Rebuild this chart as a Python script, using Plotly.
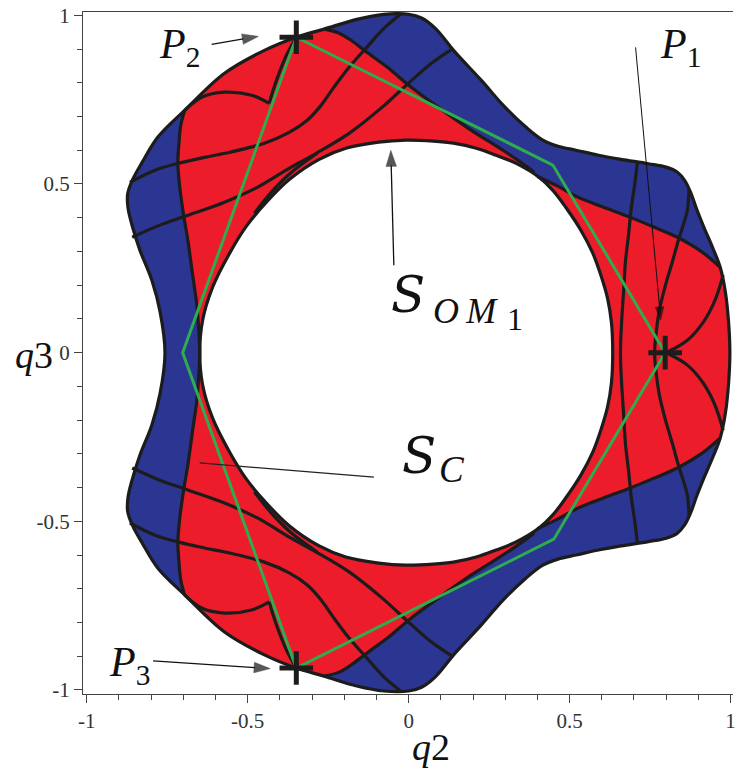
import math
import plotly.graph_objects as go

# Workspace section in the (q2, q3) plane.  Every boundary below is given for
# the upper half (q3 >= 0); the section is symmetric about q3 = 0, so the
# lower half is obtained by reflection.

# outer boundary, from (q2 max, 0) counter-clockwise to (q2 min, 0)
outer_q2 = [0.998, 0.994, 0.984, 0.968, 0.945, 0.918, 0.895, 0.876, 0.858, 0.835,
            0.800, 0.745, 0.660, 0.590, 0.520, 0.464, 0.417, 0.365, 0.294, 0.226,
            0.145, 0.083, 0.040, 0.000, -0.077, -0.161, -0.263, -0.349, -0.448, -0.572,
            -0.696, -0.779, -0.828, -0.858, -0.873, -0.872, -0.860, -0.835, -0.798, -0.772,
            -0.757]
outer_q3 = [0.000, 0.090, 0.180, 0.253, 0.310, 0.370, 0.425, 0.475, 0.510, 0.535,
            0.550, 0.560, 0.573, 0.585, 0.600, 0.612, 0.630, 0.668, 0.733, 0.807,
            0.890, 0.961, 0.992, 1.003, 1.003, 0.988, 0.959, 0.935, 0.896, 0.828,
            0.718, 0.639, 0.564, 0.512, 0.470, 0.430, 0.380, 0.304, 0.215, 0.120,
            0.000]

# inner hole (S_OM1), same orientation
hole_q2 = [0.634, 0.630, 0.618, 0.597, 0.572, 0.535, 0.488, 0.448, 0.405, 0.334,
           0.272, 0.210, 0.139, 0.077, -0.009, -0.093, -0.195, -0.278, -0.371, -0.442,
           -0.504, -0.556, -0.609, -0.640, -0.649]
hole_q3 = [0.000, 0.090, 0.161, 0.230, 0.295, 0.363, 0.431, 0.481, 0.520, 0.561,
           0.585, 0.606, 0.621, 0.627, 0.630, 0.624, 0.606, 0.573, 0.513, 0.446,
           0.375, 0.295, 0.194, 0.096, 0.000]

# red / blue separation, top branch (outer boundary -> hole)
sep_top_q2 = [-0.263, -0.216, -0.179, -0.133, -0.062, 0.000, 0.093, 0.195, 0.278, 0.340, 0.390]
sep_top_q3 = [0.959, 0.947, 0.926, 0.893, 0.843, 0.793, 0.727, 0.659, 0.609, 0.570, 0.535]

# red / blue separation, right branch (hole -> outer boundary)
sep_right_q2 = [0.400, 0.460, 0.526, 0.600, 0.689, 0.760, 0.835, 0.912, 0.968]
sep_right_q3 = [0.522, 0.495, 0.461, 0.433, 0.401, 0.373, 0.342, 0.298, 0.253]

# red / blue separation on the left (outer boundary -> q3 = 0)
sep_left_q2 = [-0.696, -0.708, -0.714, -0.717, -0.711, -0.699, -0.686, -0.671, -0.658, -0.652, -0.649]
sep_left_q3 = [0.718, 0.674, 0.615, 0.561, 0.490, 0.407, 0.333, 0.230, 0.141, 0.067, 0.000]

# interior curves of the upper half
curve_s_q2 = [-0.866, -0.788, -0.717, -0.634, -0.556, -0.448, -0.371, -0.315, -0.272, -0.232,
              -0.185, -0.133, -0.077, -0.025]
curve_s_q3 = [0.505, 0.541, 0.561, 0.579, 0.594, 0.621, 0.653, 0.689, 0.733, 0.787,
              0.846, 0.902, 0.961, 1.003]
curve_f_q2 = [-0.859, -0.773, -0.686, -0.572, -0.470, -0.365, -0.287, -0.185, -0.083, 0.000, 0.071, 0.139]
curve_f_q3 = [0.342, 0.378, 0.407, 0.446, 0.490, 0.550, 0.591, 0.650, 0.727, 0.799, 0.858, 0.902]
curve_h_q2 = [-0.479, -0.427, -0.365, -0.284]
curve_h_q3 = [0.413, 0.475, 0.534, 0.591]
cusp_arc_q2 = [-0.696, -0.643, -0.572, -0.488, -0.433]
cusp_arc_q3 = [0.718, 0.757, 0.772, 0.763, 0.739]
cusp_leg_q2 = [-0.349, -0.380, -0.405, -0.423, -0.433]
cusp_leg_q3 = [0.935, 0.881, 0.822, 0.772, 0.739]
p1_arc_q2 = [0.808, 0.866, 0.915, 0.952, 0.977]
p1_arc_q3 = [0.004, 0.037, 0.090, 0.156, 0.230]

# near-vertical curves crossing q3 = 0 (top end -> q3 = 0)
vert_a_q2 = [0.711, 0.702, 0.692, 0.683, 0.674, 0.668, 0.662, 0.658]
vert_a_q3 = [0.566, 0.496, 0.431, 0.348, 0.274, 0.185, 0.096, 0.000]
vert_b_q2 = [0.871, 0.866, 0.853, 0.838, 0.819, 0.798, 0.779, 0.770, 0.764]
vert_b_q3 = [0.485, 0.422, 0.378, 0.333, 0.268, 0.200, 0.126, 0.067, 0.000]

# polygonal path through the poses and the three poses themselves
path_q2 = [0.797, 0.448, -0.349, -0.702, -0.349, 0.451, 0.797]
path_q3 = [0.000, 0.556, 0.935, 0.000, -0.935, -0.553, 0.000]
pose_names = ["P1", "P2", "P3"]
pose_q2 = [0.797, -0.349, -0.349]
pose_q3 = [0.000, 0.935, -0.935]

RED = "#ED1C2B"
BLUE = "#2B3592"
INK = "#1C1C1C"
GREEN = "#2EAD4E"
SERIF = "Liberation Serif, Times New Roman, serif"
WIDE_SERIF = "DejaVu Serif, Liberation Serif, serif"

# plot geometry (pixels per axis unit), used to size the arrow heads
W, H = 736, 768
M_L, M_R, M_T, M_B = 83, 0, 12, 74
X_RANGE = [-1.0117, 1.0077]
Y_RANGE = [-1.0119, 1.0098]
PX_X = (W - M_L - M_R) / (X_RANGE[1] - X_RANGE[0])
PX_Y = (H - M_T - M_B) / (Y_RANGE[1] - Y_RANGE[0])


def closed_from_half(xs, ys):
    """Upper half from (x, 0) to (x', 0) -> full closed loop."""
    fx = list(xs) + list(xs[-2:0:-1]) + [xs[0]]
    fy = list(ys) + [-v for v in ys[-2:0:-1]] + [ys[0]]
    return fx, fy


def through_axis(xs, ys):
    """Curve from its top end down to q3 = 0 -> continued to the bottom end."""
    fx = list(xs) + list(xs[-2::-1])
    fy = list(ys) + [-v for v in ys[-2::-1]]
    return fx, fy


def with_mirror(xs, ys):
    """Open curve in the upper half plus its reflection, as two pieces."""
    return list(xs) + [None] + list(xs), list(ys) + [None] + [-v for v in ys]


fig = go.Figure()

# blue: whole section
ox, oy = closed_from_half(outer_q2, outer_q3)
fig.add_trace(go.Scatter(x=ox, y=oy, mode="lines", fill="toself", fillcolor=BLUE,
                         line=dict(width=0, shape="spline"), hoverinfo="skip"))

# red: part of the outer boundary, the separation curves, dipping into the hole
red_half_q2 = (outer_q2[:4] + sep_right_q2[-2::-1] + [0.37] + sep_top_q2[::-1]
               + outer_q2[27:31] + sep_left_q2[1:])
red_half_q3 = (outer_q3[:4] + sep_right_q3[-2::-1] + [0.45] + sep_top_q3[::-1]
               + outer_q3[27:31] + sep_left_q3[1:])
rx, ry = closed_from_half(red_half_q2, red_half_q3)
fig.add_trace(go.Scatter(x=rx, y=ry, mode="lines", fill="toself", fillcolor=RED,
                         line=dict(width=0), hoverinfo="skip"))

# white hole
hx, hy = closed_from_half(hole_q2, hole_q3)
fig.add_trace(go.Scatter(x=hx, y=hy, mode="lines", fill="toself", fillcolor="white",
                         line=dict(width=0, shape="spline"), hoverinfo="skip"))

# black curves
pieces = []
for xs, ys in [(sep_top_q2, sep_top_q3), (sep_right_q2, sep_right_q3),
               (curve_s_q2, curve_s_q3), (curve_f_q2, curve_f_q3),
               (curve_h_q2, curve_h_q3), (cusp_arc_q2, cusp_arc_q3),
               (cusp_leg_q2, cusp_leg_q3), (p1_arc_q2, p1_arc_q3)]:
    pieces.append(with_mirror(xs, ys))
for xs, ys in [(sep_left_q2, sep_left_q3), (vert_a_q2, vert_a_q3), (vert_b_q2, vert_b_q3)]:
    pieces.append(through_axis(xs, ys))
pieces.append((hx, hy))
pieces.append((ox, oy))
for xs, ys in pieces:
    fig.add_trace(go.Scatter(x=xs, y=ys, mode="lines",
                             line=dict(color=INK, width=3.2, shape="spline"),
                             hoverinfo="skip"))

# path between poses
fig.add_trace(go.Scatter(x=path_q2, y=path_q3, mode="lines",
                         line=dict(color=GREEN, width=3), hoverinfo="skip"))
fig.add_trace(go.Scatter(x=pose_q2, y=pose_q3, mode="markers",
                         marker=dict(symbol="cross-thin", size=24,
                                     line=dict(color=INK, width=5)),
                         hovertext=pose_names, hoverinfo="text"))


# pointer arrows: thin line with a filled head whose tip lands on the target
def add_arrow(x0, y0, x1, y1, width=1.3, head=17):
    dx, dy = (x1 - x0) * PX_X, (y1 - y0) * PX_Y
    n = math.hypot(dx, dy)
    back = head * 0.42
    hx_, hy_ = x1 - dx / n * back / PX_X, y1 - dy / n * back / PX_Y
    fig.add_trace(go.Scatter(x=[x0, hx_], y=[y0, hy_], mode="lines+markers",
                             line=dict(color="#111", width=width),
                             marker=dict(symbol="arrow", angleref="previous",
                                         size=[0, head], color="#111",
                                         line=dict(width=0.5, color="#111")),
                             hoverinfo="skip"))


add_arrow(-0.612, 0.914, -0.445, 0.941)
add_arrow(0.705, 0.905, 0.785, 0.079, width=1.0, head=14)
add_arrow(-0.046, 0.259, -0.056, 0.621)
add_arrow(-0.794, -0.914, -0.408, -0.938)


def label(text, x, y, size, ref="x", family=SERIF):
    return dict(text=text, x=x, y=y, xref=ref, yref=ref.replace("x", "y"),
                showarrow=False, xanchor="center", yanchor="middle",
                font=dict(family=family, size=size, color="#111"))


annotations = [
    label("<i>P</i><sub>2</sub>", -0.711, 0.905, 42),
    label("<i>P</i><sub>1</sub>", 0.844, 0.905, 42),
    label("<i>P</i><sub>3</sub>", -0.866, -0.925, 42),
    label("<i>S</i>", -0.003, 0.170, 50, family=WIDE_SERIF),
    label("<i>O\u2009M</i>", 0.176, 0.122, 36),
    label("1", 0.330, 0.099, 32),
    label("<i>S</i>", 0.033, -0.305, 50, family=WIDE_SERIF),
    label("<i>C</i>", 0.136, -0.347, 37),
    label("<i>q</i>3", -0.075, 0.497, 38, ref="paper"),
    label("<i>q</i>2", 0.536, -0.078, 38, ref="paper"),
]

ticks = [-1, -0.5, 0, 0.5, 1]
tick_text = ["-1", "-0.5", "0", "0.5", "1"]
axis_common = dict(tickvals=ticks, ticktext=tick_text, ticks="outside", ticklen=8,
                   tickcolor="#444", tickwidth=1, showline=True, linecolor="#444",
                   linewidth=1, showgrid=False, zeroline=False,
                   ticklabeloverflow="allow",
                   tickfont=dict(family=SERIF, size=21, color="#333"),
                   minor=dict(dtick=0.1, ticks="outside", ticklen=5, tickcolor="#444",
                              showgrid=False))

fig.update_layout(
    width=W, height=H, margin=dict(l=M_L, r=M_R, t=M_T, b=M_B),
    paper_bgcolor="white", plot_bgcolor="white", showlegend=False,
    xaxis=dict(range=X_RANGE, mirror=True, **axis_common),
    yaxis=dict(range=Y_RANGE, **axis_common),
    annotations=annotations,
    shapes=[dict(type="line", x0=-0.649, y0=-0.327, x1=-0.108, y1=-0.369,
                 xref="x", yref="y", line=dict(color="#222", width=1.2))],
)

fig.write_html("out.html")
